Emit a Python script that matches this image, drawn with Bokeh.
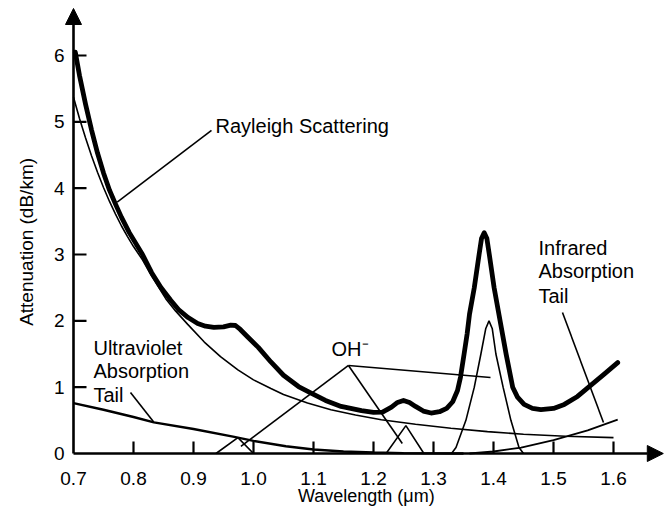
from bokeh.plotting import figure
from bokeh.models import Arrow, NormalHead
from bokeh.core.properties import value
from bokeh.embed import file_html
from bokeh.resources import INLINE

# ---------------- data ----------------
rayleigh_x = [0.700, 0.710, 0.720, 0.730, 0.740, 0.750, 0.760, 0.770, 0.780, 0.790, 0.800,
              0.815, 0.830, 0.854, 0.870, 0.890, 0.918, 0.945, 0.974, 1.000, 1.029, 1.050,
              1.090, 1.129, 1.170, 1.213, 1.270, 1.329, 1.390, 1.450, 1.520, 1.600]
rayleigh_y = [5.37, 5.05, 4.76, 4.49, 4.24, 4.01, 3.80, 3.61, 3.43, 3.27, 3.12,
              2.92, 2.68, 2.33, 2.15, 1.95, 1.68, 1.46, 1.26, 1.11, 0.98, 0.89,
              0.76, 0.66, 0.58, 0.51, 0.44, 0.38, 0.33, 0.29, 0.26, 0.24]

total_x = [0.703, 0.710, 0.720, 0.730, 0.740, 0.750, 0.760, 0.770, 0.780, 0.793, 0.815,
           0.830, 0.846, 0.862, 0.876, 0.891, 0.907, 0.920, 0.934, 0.950, 0.962, 0.970,
           0.978, 0.990, 1.008, 1.029, 1.050, 1.075, 1.096, 1.120, 1.146, 1.180, 1.200,
           1.215, 1.230, 1.240, 1.250, 1.260, 1.270, 1.283, 1.296, 1.310, 1.322, 1.332,
           1.340, 1.345, 1.351, 1.356, 1.360, 1.368, 1.376, 1.380, 1.3845, 1.389, 1.393,
           1.401, 1.411, 1.421, 1.432, 1.440, 1.451, 1.465, 1.479, 1.500, 1.518, 1.540,
           1.5625, 1.585, 1.607]
total_y = [6.05, 5.70, 5.27, 4.88, 4.53, 4.23, 3.97, 3.76, 3.56, 3.33, 3.00,
           2.73, 2.50, 2.31, 2.16, 2.05, 1.96, 1.92, 1.90, 1.91, 1.935, 1.93,
           1.87, 1.76, 1.60, 1.38, 1.18, 1.01, 0.91, 0.80, 0.71, 0.645, 0.62,
           0.625, 0.70, 0.77, 0.80, 0.77, 0.71, 0.64, 0.61, 0.63, 0.68, 0.78,
           0.95, 1.15, 1.50, 1.80, 2.10, 2.50, 3.00, 3.24, 3.33, 3.24, 3.00,
           2.50, 2.00, 1.50, 1.00, 0.85, 0.74, 0.68, 0.66, 0.68, 0.74, 0.86,
           1.03, 1.20, 1.37]

uv_x = [0.700, 0.750, 0.800, 0.834, 0.900, 0.968, 1.000, 1.054, 1.100, 1.150, 1.200, 1.250, 1.350]
uv_y = [0.76, 0.66, 0.55, 0.47, 0.37, 0.25, 0.19, 0.11, 0.06, 0.03, 0.015, 0.005, 0.0]

ir_x = [1.360, 1.400, 1.446, 1.500, 1.557, 1.607]
ir_y = [0.00, 0.03, 0.09, 0.20, 0.35, 0.51]

oh1_x = [0.9375, 0.974, 1.000]
oh1_y = [0.0, 0.24, 0.0]
oh2_x = [1.221, 1.254, 1.284]
oh2_y = [0.0, 0.42, 0.0]
oh3_x = [1.330, 1.3375, 1.354, 1.368, 1.379, 1.387, 1.3925, 1.398, 1.404, 1.416, 1.429, 1.4425, 1.450]
oh3_y = [0.0, 0.09, 0.50, 1.00, 1.50, 1.88, 2.00, 1.88, 1.50, 1.00, 0.50, 0.09, 0.0]

x_ticks = [0.7, 0.8, 0.9, 1.0, 1.1, 1.2, 1.3, 1.4, 1.5, 1.6]
x_tick_labels = ["0.7", "0.8", "0.9", "1.0", "1.1", "1.2", "1.3", "1.4", "1.5", "1.6"]
y_ticks = [0, 1, 2, 3, 4, 5, 6]
y_tick_labels = ["0", "1", "2", "3", "4", "5", "6"]

# leader lines (start -> end, data units)
leader_x0 = [0.930, 0.795, 1.1583, 1.1583, 1.1583, 1.515]
leader_y0 = [4.87, 0.92, 1.327, 1.327, 1.327, 2.126]
leader_x1 = [0.7728, 0.834, 0.979, 1.248, 1.395, 1.5833]
leader_y1 = [3.79, 0.47, 0.106, 0.15, 1.146, 0.467]

# annotation texts
note_text = ["Rayleigh Scattering", "OH\u207b", "Ultraviolet", "Absorption", "Tail",
             "Infrared", "Absorption", "Tail"]
note_x = [0.9367, 1.130, 0.7333, 0.7333, 0.7333, 1.475, 1.475, 1.475]
note_y = [4.93, 1.583, 1.598, 1.251, 0.889, 3.091, 2.744, 2.382]

# ---------------- figure ----------------
FONT = "Liberation Sans"
X0, X1 = 0.578333, 1.685
Y0, Y1 = -0.8141, 6.8295

p = figure(width=664, height=507, x_range=(X0, X1), y_range=(Y0, Y1),
           output_backend="svg", toolbar_location=None,
           x_axis_location=None, y_axis_location=None, min_border=0)
p.grid.visible = False
p.outline_line_color = None
p.background_fill_color = "white"
p.border_fill_color = "white"

# curves
p.line(rayleigh_x, rayleigh_y, line_color="black", line_width=1.6)
p.line(uv_x, uv_y, line_color="black", line_width=2.4)
p.line(ir_x, ir_y, line_color="black", line_width=1.8)
p.line(oh1_x, oh1_y, line_color="black", line_width=1.6)
p.line(oh2_x, oh2_y, line_color="black", line_width=1.6)
p.line(oh3_x, oh3_y, line_color="black", line_width=1.6)
p.line(total_x, total_y, line_color="black", line_width=4.8, line_join="round", line_cap="round")

# leaders
p.segment(x0=leader_x0, y0=leader_y0, x1=leader_x1, y1=leader_y1, line_color="black", line_width=1.6)

# axes (drawn in data units)
TICK_Y = 12 / 66.33
TICK_X = 13 / 600
p.segment(x0=x_ticks[1:], y0=[0] * 9, x1=x_ticks[1:], y1=[TICK_Y] * 9, line_color="black", line_width=2.2)
p.segment(x0=[0.7] * 6, y0=y_ticks[1:], x1=[0.7 + TICK_X] * 6, y1=y_ticks[1:], line_color="black", line_width=2.2)

p.add_layout(Arrow(x_start=0.7, y_start=0, x_end=0.7, y_end=6.709, line_width=2.6, line_color="black",
                   end=NormalHead(size=16, fill_color="black", line_color="black", line_width=1)))
p.add_layout(Arrow(x_start=0.7, y_start=0, x_end=1.683, y_end=0, line_width=2.6, line_color="black",
                   end=NormalHead(size=16, fill_color="black", line_color="black", line_width=1)))

# tick labels
p.text(x=x_ticks, y=[0] * len(x_ticks), text=x_tick_labels, text_align="center", text_baseline="alphabetic",
       y_offset=25, text_font=value(FONT), text_font_size="19px", text_color="black")
p.text(x=[0.7] * len(y_ticks), y=y_ticks, text=y_tick_labels, text_align="right", text_baseline="middle",
       x_offset=-9, text_font=value(FONT), text_font_size="19px", text_color="black")

# axis titles
p.text(x=[1.188], y=[0], text=["Wavelength (\u03bcm)"], text_align="center", text_baseline="alphabetic",
       y_offset=42, text_font=value(FONT), text_font_size="18px", text_color="black")
p.text(x=[0.6217], y=[3.19], text=["Attenuation (dB/km)"], text_align="center", text_baseline="middle",
       angle=1.5708, text_font=value(FONT), text_font_size="19px", text_color="black")

# annotation labels
p.text(x=note_x, y=note_y, text=note_text, text_align="left", text_baseline="middle",
       text_font=value(FONT), text_font_size="20px", text_color="black")

open("out.html", "w").write(file_html(p, INLINE))
